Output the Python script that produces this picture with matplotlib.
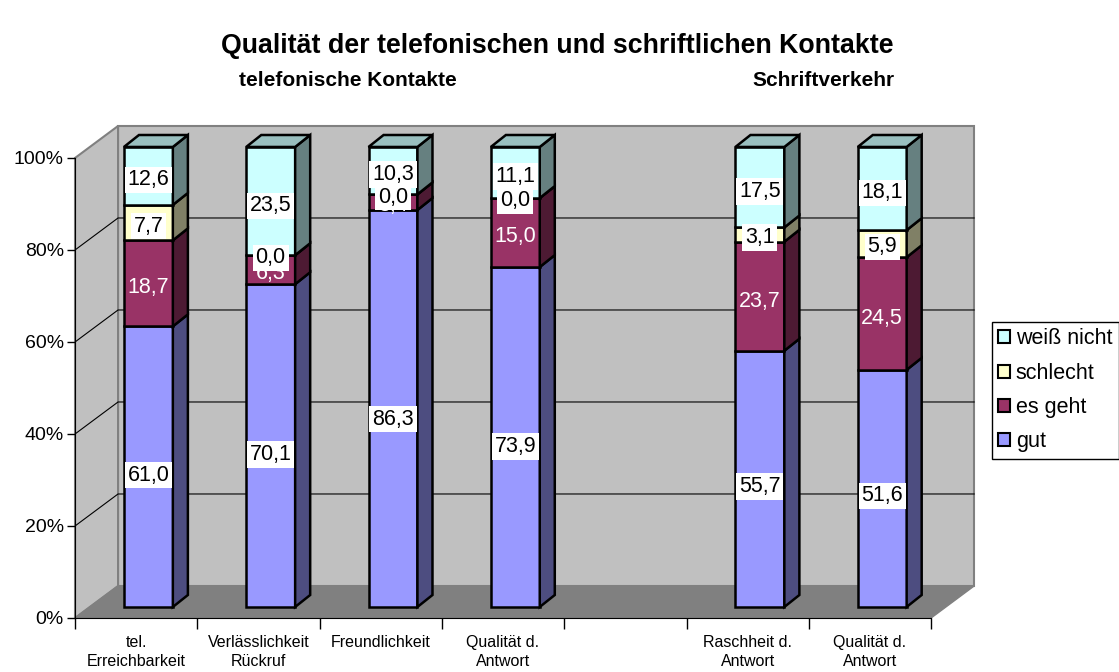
import numpy as np
import matplotlib
matplotlib.use("Agg")
import matplotlib.pyplot as plt
from matplotlib.patches import Polygon, Patch

plt.rcParams['font.family'] = ['Liberation Sans', 'DejaVu Sans']

# data
categories = ["tel.\nErreichbarkeit", "Verlässlichkeit\nRückruf", "Freundlichkeit",
              "Qualität d.\nAntwort", "Raschheit d.\nAntwort", "Qualität d.\nAntwort"]
series_names = ["gut", "es geht", "schlecht", "weiß nicht"]
gut = [61.0, 70.1, 86.3, 73.9, 55.7, 51.6]
es_geht = [18.7, 6.3, 3.4, 15.0, 23.7, 24.5]
schlecht = [7.7, 0.0, 0.0, 0.0, 3.1, 5.9]
weiss_nicht = [12.6, 23.5, 10.3, 11.1, 17.5, 18.1]

# layout / style
slots = [0, 1, 2, 3, 5, 6]   # slot 4 stays empty
n_slots = 7
colors = ["#9999FF", "#993366", "#FFFFCC", "#CCFFFF"]
label_colors = ["black", "white", "black", "black"]
label_boxes = [True, False, True, True]

DX, DY = 0.352, 6.96        # depth of walls
F_DX, F_DY = 0.12, 2.4      # shift of bar front face
B_DX, B_DY = 0.123, 2.6     # depth of bar
bar_w = 0.40


def shade(c, f):
    r, g, b = matplotlib.colors.to_rgb(c)
    return (r * f, g * f, b * f)


values = np.array([gut, es_geht, schlecht, weiss_nicht])
shares = values / values.sum(axis=0) * 100

fig = plt.figure(figsize=(11.19, 6.72), dpi=100)
ax = fig.add_axes([75 / 1119, 54 / 672, 7.4 * 122.3 / 1119, 108 * 4.6 / 672])
ax.set_xlim(0, 7.4)
ax.set_ylim(0, 108)
ax.patch.set_alpha(0)

# walls and floor
ax.add_patch(Polygon([(DX, DY), (n_slots + DX, DY), (n_slots + DX, 100 + DY), (DX, 100 + DY)],
                     fc="#C0C0C0", ec="#808080", lw=1.5, zorder=0.5, clip_on=False))
ax.add_patch(Polygon([(0, 0), (DX, DY), (DX, 100 + DY), (0, 100)],
                     fc="#C0C0C0", ec="#808080", lw=1.5, zorder=0.5, clip_on=False))
for yt in [20, 40, 60, 80]:
    ax.plot([0, DX, n_slots + DX], [yt, yt + DY, yt + DY], color="black", lw=0.8, zorder=1)
ax.add_patch(Polygon([(0, 0), (n_slots, 0), (n_slots + DX, DY), (DX, DY)],
                     fc="#808080", ec="#808080", lw=1, zorder=1.5, clip_on=False))

# axes
for s in ["top", "right"]:
    ax.spines[s].set_visible(False)
ax.spines["left"].set_bounds(0, 100)
ax.spines["bottom"].set_bounds(0, n_slots)
ax.spines["left"].set_zorder(2)
ax.spines["bottom"].set_zorder(2)
ax.set_yticks([0, 20, 40, 60, 80, 100])
ax.set_yticklabels(["0%", "20%", "40%", "60%", "80%", "100%"])
ax.tick_params(axis="y", length=6, width=1, labelsize=14, pad=2)
ax.set_xticks(range(n_slots + 1))
ax.set_xticklabels([])
ax.tick_params(axis="x", which="major", length=8, width=1)
ax.set_xticks([s + 0.5 for s in slots], minor=True)
ax.set_xticklabels(categories, minor=True, linespacing=1.4)
ax.tick_params(axis="x", which="minor", length=0, labelsize=11.5, pad=12)

# stacked 3D-looking bars
xs = np.array(slots, dtype=float)
bottoms = np.zeros(len(slots))
for k in range(len(series_names)):
    h = shares[k]
    ax.bar(xs + 0.28 + F_DX + bar_w / 2, h, bottom=bottoms + F_DY, width=bar_w,
           color=colors[k], edgecolor="black", lw=1.8, zorder=3)
    for i, s in enumerate(slots):
        x1 = s + 0.28 + F_DX + bar_w
        y0 = bottoms[i] + F_DY
        y1 = bottoms[i] + h[i] + F_DY
        ax.add_patch(Polygon([(x1, y0), (x1 + B_DX, y0 + B_DY), (x1 + B_DX, y1 + B_DY), (x1, y1)],
                             fc=shade(colors[k], 0.5), ec="black", lw=1.8, zorder=3))
        if k == len(series_names) - 1:
            x0 = x1 - bar_w
            ax.add_patch(Polygon([(x0, y1), (x1, y1), (x1 + B_DX, y1 + B_DY), (x0 + B_DX, y1 + B_DY)],
                                 fc=shade(colors[k], 0.75), ec="black", lw=1.8, zorder=3,
                                 clip_on=False))
    bottoms = bottoms + h

# value labels
bottoms = np.zeros(len(slots))
for k in range(len(series_names)):
    for i, s in enumerate(slots):
        mid = bottoms[i] + shares[k][i] / 2 + F_DY - 0.6 - 0.02 * shares[k][i]
        txt = f"{values[k][i]:.1f}".replace(".", ",")
        box = dict(fc="white", ec="none", pad=2) if label_boxes[k] else None
        ax.text(s + 0.28 + F_DX + bar_w / 2, mid, txt, ha="center", va="center",
                fontsize=15.5, color=label_colors[k], bbox=box, zorder=10 + k)
    bottoms = bottoms + shares[k]

# legend
handles = [Patch(fc=colors[k], ec="black", lw=1.5) for k in range(len(series_names))][::-1]
leg = fig.legend(handles, series_names[::-1], loc="upper left",
                 bbox_to_anchor=(992 / 1119, 1 - 322 / 672), frameon=True, fancybox=False,
                 edgecolor="black", framealpha=1, handlelength=0.55, handleheight=0.55,
                 handletextpad=0.25, labelspacing=0.62, borderpad=0.3, borderaxespad=0,
                 fontsize=15.5)
leg.get_frame().set_linewidth(1)

# titles
fig.text(557 / 1119, 1 - 46 / 672, "Qualität der telefonischen und schriftlichen Kontakte",
         ha="center", va="center", fontsize=19.3, fontweight="bold")
fig.text(348 / 1119, 1 - 80 / 672, "telefonische Kontakte", ha="center", va="center",
         fontsize=15, fontweight="bold")
fig.text(823 / 1119, 1 - 80 / 672, "Schriftverkehr", ha="center", va="center",
         fontsize=15, fontweight="bold")

fig.savefig("out.png", dpi=100)
